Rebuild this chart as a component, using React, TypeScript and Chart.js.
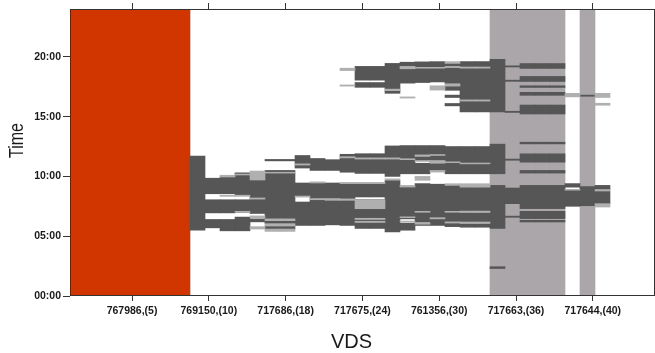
import React, { useEffect, useRef } from "react";
import { Chart, registerables } from "chart.js";

Chart.register(...registerables);

// ---------- data ----------
const COLUMN_COUNT = 39;
const columnLabels = Array.from({ length: COLUMN_COUNT }, (_, i) => String(i));

const xTitle = "VDS";
const yTitle = "Time";

// VDS tick labels (evenly spaced slots 1..7 on the label axis)
const vdsTickLabels = [
  "767986,(5)",
  "769150,(10)",
  "717686,(18)",
  "717675,(24)",
  "761356,(30)",
  "717663,(36)",
  "717644,(40)",
];
const vdsTickSlots = [1, 2, 3, 4, 5, 6, 7];
const vdsSlotRange = [0.192, 7.81];

// time ticks (hours)
const timeTicks = [0, 5, 10, 15, 20];
const timeRange = [0, 24];

// background bands: [fromColumn, toColumn]
const redBands: [number, number][] = [[0, 7]];
const grayBands: [number, number][] = [[28, 32], [34, 34]];

// dark (congested) intervals: [fromColumn, toColumn, fromHour, toHour]
const darkSegments: [number, number, number, number][] = [
  [8, 8, 5.5, 11.7],
  [9, 9, 5.7, 6.4], [9, 9, 6.95, 8.05], [9, 9, 8.55, 9.85],
  [10, 10, 5.45, 6.4], [10, 10, 6.95, 8.05], [10, 10, 8.55, 9.95],
  [11, 11, 5.45, 6.6], [11, 11, 7.0, 8.05], [11, 11, 8.4, 10.3],
  [12, 12, 6.9, 9.7], [12, 12, 6.2, 6.45],
  [13, 14, 6.45, 10.5], [13, 14, 6.05, 6.3], [13, 14, 5.6, 5.85], [13, 14, 11.3, 11.42],
  [15, 15, 10.7, 11.75], [15, 15, 8.3, 9.45], [15, 15, 5.9, 7.86],
  [16, 16, 10.5, 11.5], [16, 16, 5.9, 9.45],
  [17, 17, 10.5, 11.4], [17, 17, 5.95, 9.45],
  [18, 18, 10.35, 11.85], [18, 18, 5.9, 9.4],
  [19, 20, 10.25, 11.9], [19, 20, 8.28, 9.4], [19, 20, 5.65, 8.06],
  [19, 20, 18.05, 19.2], [19, 20, 17.45, 17.85],
  [21, 21, 10.0, 12.55], [21, 21, 5.35, 9.65], [21, 21, 16.95, 19.45],
  [22, 22, 10.22, 12.58], [22, 22, 6.45, 9.11], [22, 22, 5.5, 6.1], [22, 22, 17.8, 19.55],
  [23, 23, 11.33, 12.58], [23, 23, 10.22, 11.1], [23, 23, 5.9, 9.4], [23, 23, 17.85, 19.58],
  [24, 24, 10.5, 12.58], [24, 24, 5.9, 9.35], [24, 24, 17.9, 19.6],
  [25, 25, 10.22, 12.5], [25, 25, 5.8, 9.25], [25, 25, 17.75, 19.45], [25, 25, 17.2, 17.55],
  [25, 25, 16.6, 16.8], [25, 25, 15.9, 16.1],
  [26, 27, 10.22, 12.5], [26, 27, 5.75, 9.1], [26, 27, 15.4, 19.6],
  [28, 28, 10.22, 12.7], [28, 28, 5.65, 9.25], [28, 28, 2.3, 2.45], [28, 28, 15.4, 19.8],
  [29, 29, 11.35, 11.45], [29, 29, 7.72, 9.03], [29, 29, 6.58, 6.68],
  [29, 29, 19.15, 19.25], [29, 29, 17.95, 18.05], [29, 29, 15.35, 15.45],
  [30, 32, 12.72, 12.86], [30, 32, 11.19, 11.89], [30, 32, 10.28, 10.5], [30, 32, 7.31, 9.25],
  [30, 32, 6.47, 7.08], [30, 32, 6.19, 6.33], [30, 32, 19.03, 19.44], [30, 32, 17.94, 18.36],
  [30, 32, 17.44, 17.58], [30, 32, 16.78, 17.03], [30, 32, 15.22, 15.97],
  [33, 33, 7.5, 8.9], [33, 33, 9.1, 9.4],
  [34, 34, 7.55, 9.15], [34, 34, 16.7, 16.8],
  [35, 35, 8.9, 9.25], [35, 35, 7.72, 8.78],
];

// light (partial) intervals: [fromColumn, toColumn, fromHour, toHour]
const lightSegments: [number, number, number, number][] = [
  [10, 10, 9.95, 10.1], [10, 10, 8.33, 8.43],
  [11, 11, 10.12, 10.2], [11, 11, 8.33, 8.43], [11, 11, 7.0, 7.08],
  [12, 12, 9.7, 10.45], [12, 12, 8.1, 8.2], [12, 12, 6.55, 6.7], [12, 12, 5.6, 5.8],
  [13, 14, 10.28, 10.35], [13, 14, 6.3, 6.45], [13, 14, 5.85, 6.05], [13, 14, 5.4, 5.6],
  [15, 15, 10.95, 11.05], [15, 15, 8.28, 8.36],
  [16, 16, 9.45, 9.55], [16, 16, 8.05, 8.15],
  [17, 17, 8.0, 8.15],
  [18, 18, 11.55, 11.65], [18, 18, 8.0, 8.12], [18, 18, 9.4, 9.5],
  [18, 18, 18.85, 19.05], [18, 18, 17.55, 17.65],
  [19, 20, 11.45, 11.55], [19, 20, 9.4, 9.5], [19, 20, 7.3, 8.06], [19, 20, 6.4, 6.5], [19, 20, 6.15, 6.25],
  [21, 21, 11.45, 11.55], [21, 21, 9.72, 9.8], [21, 21, 17.17, 17.3],
  [22, 22, 11.4, 11.48], [22, 22, 9.11, 9.25], [22, 22, 6.55, 6.62], [22, 22, 6.2, 6.27],
  [22, 22, 19.0, 19.2], [22, 22, 16.55, 16.65],
  [23, 23, 11.67, 11.8], [23, 23, 11.25, 11.33], [23, 23, 9.67, 10.0], [23, 23, 6.0, 6.15],
  [23, 23, 7.0, 7.08], [23, 23, 19.05, 19.12],
  [24, 24, 11.75, 11.83], [24, 24, 11.1, 11.33], [24, 24, 10.36, 10.5], [24, 24, 6.45, 6.55],
  [24, 24, 19.05, 19.12], [24, 24, 17.22, 17.58],
  [25, 25, 11.15, 11.22], [25, 25, 9.25, 9.39], [25, 25, 7.0, 7.08], [25, 25, 6.1, 6.2],
  [25, 25, 19.45, 19.6], [25, 25, 19.1, 19.2], [25, 25, 17.55, 17.75],
  [26, 27, 11.05, 11.12], [26, 27, 9.1, 9.39], [26, 27, 6.98, 7.1], [26, 27, 6.06, 6.19],
  [26, 27, 19.05, 19.15], [26, 27, 16.3, 16.4],
  [33, 33, 8.85, 8.92], [33, 33, 16.65, 16.95],
  [35, 35, 8.78, 8.9], [35, 35, 7.44, 7.72], [35, 35, 16.6, 16.95], [35, 35, 15.95, 16.12],
];

// ---------- colours ----------
const RED = "#d23600";
const BAND_GRAY = "#aaa6aa";
const DARK = "#565656";
const LIGHT = "#b0b0b0";
const AXIS = "#333333";

// ---------- helpers ----------
function buildLayers(segs: [number, number, number, number][]) {
  const byCol: Map<number, [number, number][]> = new Map();
  segs.forEach(([c0, c1, h0, h1]) => {
    for (let c = c0; c <= c1; c++) {
      if (!byCol.has(c)) byCol.set(c, []);
      byCol.get(c)!.push([h0, h1]);
    }
  });
  let maxN = 0;
  byCol.forEach((v) => (maxN = Math.max(maxN, v.length)));
  const out: ([number, number] | null)[][] = [];
  for (let k = 0; k < maxN; k++) {
    out.push(columnLabels.map((_, c) => (byCol.get(c) && byCol.get(c)![k]) || null));
  }
  return out;
}

function bandData(bands: [number, number][]) {
  return columnLabels.map((_, c) =>
    bands.some(([a, b]) => c >= a && c <= b) ? [timeRange[0], timeRange[1]] : null
  );
}

const framePlugin = {
  id: "frameAndTitles",
  afterDatasetsDraw(chart: any) {
    const { ctx, chartArea } = chart;
    const { left, right, top, bottom } = chartArea;
    ctx.save();
    ctx.strokeStyle = AXIS;
    ctx.lineWidth = 1;
    ctx.strokeRect(left + 0.5, top + 0.5, right - left - 1, bottom - top - 1);
    ctx.restore();
  },
  afterDraw(chart: any) {
    const { ctx, chartArea } = chart;
    const cx = (chartArea.left + chartArea.right) / 2 - 11;
    const cy = (chartArea.top + chartArea.bottom) / 2 - 12;
    ctx.save();
    ctx.fillStyle = "#1a1a1a";
    ctx.font = '20px "Liberation Sans", Arial, sans-serif';
    ctx.textAlign = "center";
    ctx.textBaseline = "alphabetic";
    ctx.fillText(xTitle, cx, chartArea.bottom + 52);
    ctx.translate(23, cy);
    ctx.rotate(-Math.PI / 2);
    ctx.scale(0.8, 1);
    ctx.fillText(yTitle, 0, 0);
    ctx.restore();
  },
};

export default function App() {
  const canvasRef = useRef<HTMLCanvasElement | null>(null);

  useEffect(() => {
    document.body.style.margin = "0";
    const canvas = canvasRef.current!;
    const datasets: any[] = [];

    datasets.push({
      label: "red",
      data: bandData(redBands),
      backgroundColor: RED,
      order: 3,
    });
    datasets.push({
      label: "gray",
      data: bandData(grayBands),
      backgroundColor: BAND_GRAY,
      order: 3,
    });
    buildLayers(darkSegments).forEach((d, i) =>
      datasets.push({ label: "dark" + i, data: d, backgroundColor: DARK, order: 2 })
    );
    buildLayers(lightSegments).forEach((d, i) =>
      datasets.push({ label: "light" + i, data: d, backgroundColor: LIGHT, order: 1 })
    );

    const tickFont = { family: '"Liberation Sans", Arial, sans-serif', size: 10.5, weight: "bold" as const };

    const chart = new Chart(canvas, {
      type: "bar",
      data: { labels: columnLabels, datasets },
      options: {
        animation: false,
        responsive: false,
        maintainAspectRatio: false,
        layout: { padding: { left: 0, right: 0, top: 0, bottom: 0 } },
        datasets: {
          bar: {
            grouped: false,
            categoryPercentage: 1,
            barPercentage: 1,
            borderWidth: 0,
          } as any,
        },
        plugins: {
          legend: { display: false },
          tooltip: { enabled: false },
          title: { display: false },
        },
        scales: {
          x: {
            type: "category",
            display: false,
            offset: true,
          },
          vds: {
            type: "linear",
            position: "bottom",
            offset: false,
            min: vdsSlotRange[0],
            max: vdsSlotRange[1],
            afterBuildTicks: (s: any) => {
              s.ticks = vdsTickSlots.map((v) => ({ value: v }));
            },
            afterFit: (s: any) => {
              s.height = 57;
            },
            ticks: {
              callback: (_v: any, i: number) => vdsTickLabels[i],
              font: tickFont,
              color: "#1a1a1a",
              padding: 4,
              autoSkip: false,
              maxRotation: 0,
            },
            grid: {
              offset: false,
              drawOnChartArea: false,
              drawTicks: true,
              tickLength: 5,
              tickColor: AXIS,
            },
            border: { display: false },
          },
          vdsTop: {
            type: "linear",
            position: "top",
            offset: false,
            min: vdsSlotRange[0],
            max: vdsSlotRange[1],
            afterBuildTicks: (s: any) => {
              s.ticks = vdsTickSlots.map((v) => ({ value: v }));
            },
            afterFit: (s: any) => {
              s.height = 9;
            },
            ticks: { display: false },
            grid: {
              offset: false,
              drawOnChartArea: false,
              drawTicks: true,
              tickLength: 6,
              tickColor: AXIS,
            },
            border: { display: false },
          },
          y: {
            type: "linear",
            position: "left",
            min: timeRange[0],
            max: timeRange[1],
            afterBuildTicks: (s: any) => {
              s.ticks = timeTicks.map((v) => ({ value: v }));
            },
            afterFit: (s: any) => {
              s.width = 70;
            },
            ticks: {
              callback: (v: any) => String(v).padStart(2, "0") + ":00",
              font: tickFont,
              color: "#1a1a1a",
              padding: 2,
            },
            grid: {
              drawOnChartArea: false,
              drawTicks: true,
              tickLength: 7,
              tickColor: AXIS,
            },
            border: { display: false },
          },
        },
      } as any,
      plugins: [framePlugin],
    });

    return () => chart.destroy();
  }, []);

  return (
    <div style={{ width: 655, height: 353 }}>
      <canvas ref={canvasRef} width={655} height={353} style={{ display: "block" }} />
    </div>
  );
}
